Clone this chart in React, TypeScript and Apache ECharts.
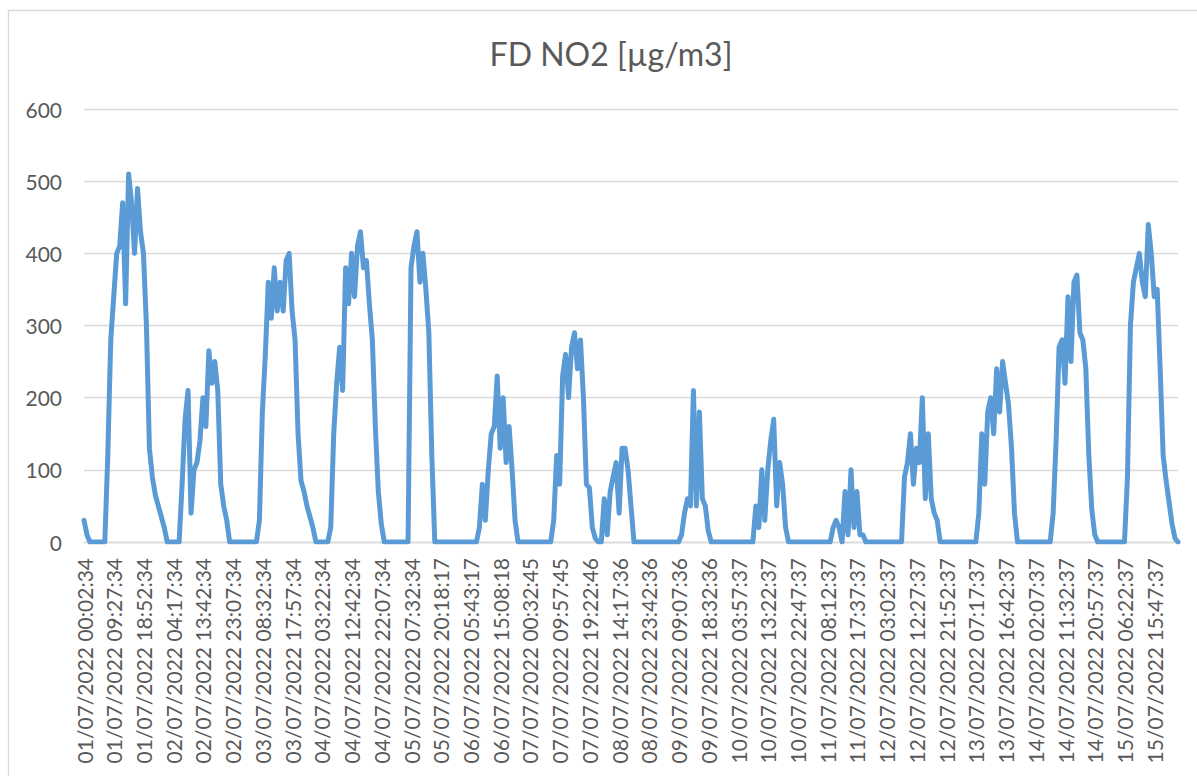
import React, { useEffect, useRef } from 'react';
import * as echarts from 'echarts';

const TITLE = 'FD NO2 [µg/m3]';

const tickLabels = [
  '01/07/2022 00:02:34', '01/07/2022 09:27:34', '01/07/2022 18:52:34',
  '02/07/2022 04:17:34', '02/07/2022 13:42:34', '02/07/2022 23:07:34',
  '03/07/2022 08:32:34', '03/07/2022 17:57:34', '04/07/2022 03:22:34',
  '04/07/2022 12:42:34', '04/07/2022 22:07:34', '05/07/2022 07:32:34',
  '05/07/2022 20:18:17', '06/07/2022 05:43:17', '06/07/2022 15:08:18',
  '07/07/2022 00:32:45', '07/07/2022 09:57:45', '07/07/2022 19:22:46',
  '08/07/2022 14:17:36', '08/07/2022 23:42:36', '09/07/2022 09:07:36',
  '09/07/2022 18:32:36', '10/07/2022 03:57:37', '10/07/2022 13:22:37',
  '10/07/2022 22:47:37', '11/07/2022 08:12:37', '11/07/2022 17:37:37',
  '12/07/2022 03:02:37', '12/07/2022 12:27:37', '12/07/2022 21:52:37',
  '13/07/2022 07:17:37', '13/07/2022 16:42:37', '14/07/2022 02:07:37',
  '14/07/2022 11:32:37', '14/07/2022 20:57:37', '15/07/2022 06:22:37',
  '15/07/2022 15:47:37',
];

// samples between two consecutive tick labels
const POINTS_PER_TICK = 10;

// NO2 readings [µg/m3] (10 samples per labelled interval)
const no2Values = [
  30, 10, 0, 0, 0, 0, 0, 0, 120, 280,
  340, 400, 410, 470, 330, 510, 470, 400, 490, 430,
  400, 300, 130, 90, 65, 50, 35, 20, 0, 0,
  0, 0, 0, 80, 170, 210, 40, 100, 110, 140,
  200, 160, 265, 220, 250, 210, 80, 50, 30, 0,
  0, 0, 0, 0, 0, 0, 0, 0, 0, 30,
  180, 260, 360, 310, 380, 320, 360, 320, 390, 400,
  320, 280, 150, 85, 70, 50, 35, 20, 0, 0,
  0, 0, 0, 20, 150, 220, 270, 210, 380, 330,
  400, 340, 410, 430, 380, 390, 330, 280, 160, 70,
  25, 0, 0, 0, 0, 0, 0, 0, 0, 0,
  380, 410, 430, 360, 400, 350, 290, 120, 0, 0,
  0, 0, 0, 0, 0, 0, 0, 0, 0, 0,
  0, 0, 0, 20, 80, 30, 100, 150, 160, 230,
  130, 200, 110, 160, 100, 30, 0, 0, 0, 0,
  0, 0, 0, 0, 0, 0, 0, 0, 30, 120,
  80, 230, 260, 200, 270, 290, 240, 280, 200, 80,
  75, 20, 5, 0, 0, 60, 10, 70, 90, 110,
  40, 130, 130, 100, 50, 0, 0, 0, 0, 0,
  0, 0, 0, 0, 0, 0, 0, 0, 0, 0,
  0, 10, 40, 60, 50, 210, 50, 180, 60, 50,
  15, 0, 0, 0, 0, 0, 0, 0, 0, 0,
  0, 0, 0, 0, 0, 0, 50, 20, 100, 30,
  100, 140, 170, 50, 110, 80, 20, 0, 0, 0,
  0, 0, 0, 0, 0, 0, 0, 0, 0, 0,
  0, 0, 20, 30, 20, 0, 70, 10, 100, 20,
  70, 10, 10, 0, 0, 0, 0, 0, 0, 0,
  0, 0, 0, 0, 0, 0, 90, 110, 150, 80,
  130, 110, 200, 60, 150, 60, 40, 30, 0, 0,
  0, 0, 0, 0, 0, 0, 0, 0, 0, 0,
  0, 40, 150, 80, 180, 200, 150, 240, 180, 250,
  220, 190, 130, 40, 0, 0, 0, 0, 0, 0,
  0, 0, 0, 0, 0, 0, 40, 140, 270, 280,
  220, 340, 250, 360, 370, 290, 280, 240, 120, 45,
  10, 0, 0, 0, 0, 0, 0, 0, 0, 0,
  0, 90, 300, 360, 380, 400, 360, 340, 440, 400,
  340, 350, 240, 120, 85, 55, 25, 5, 0,
];

const yTicks = { min: 0, max: 600, interval: 100 };

const FONT = 'Lato, "Open Sans", sans-serif';
const TEXT_COLOR = '#595959';
const GRID_COLOR = '#D9D9D9';
const LINE_COLOR = '#5B9BD5';

export default function App() {
  const ref = useRef<HTMLDivElement>(null);

  useEffect(() => {
    if (!ref.current) return;
    const chart = echarts.init(ref.current, null, { renderer: 'svg' });
    const categories = no2Values.map((_, i) =>
      i % POINTS_PER_TICK === 0 ? tickLabels[i / POINTS_PER_TICK] ?? '' : ''
    );
    chart.setOption({
      animation: false,
      backgroundColor: '#ffffff',
      title: {
        text: TITLE,
        left: 606,
        top: 32,
        textAlign: 'center',
        textStyle: {
          fontFamily: FONT,
          fontSize: 32,
          fontWeight: 'normal',
          color: TEXT_COLOR,
        },
      },
      graphic: [
        {
          type: 'rect',
          silent: true,
          shape: { x: 8.5, y: 10.5, width: 1400, height: 1000 },
          style: { fill: 'none', stroke: GRID_COLOR, lineWidth: 1.3 },
        },
      ],
      grid: {
        left: 84,
        right: 19,
        top: 109,
        bottom: 234,
        outerBoundsMode: 'none',
      },
      xAxis: {
        type: 'category',
        data: categories,
        boundaryGap: false,
        axisLine: { show: true, lineStyle: { color: GRID_COLOR, width: 1.3 } },
        axisTick: { show: false },
        splitLine: { show: false },
        axisLabel: {
          interval: (index: number) => index % POINTS_PER_TICK === 0,
          rotate: 90,
          margin: 16,
          fontFamily: FONT,
          fontSize: 21,
          color: TEXT_COLOR,
        },
      },
      yAxis: {
        type: 'value',
        min: yTicks.min,
        max: yTicks.max,
        interval: yTicks.interval,
        axisLine: { show: false },
        axisTick: { show: false },
        splitLine: { show: true, lineStyle: { color: GRID_COLOR, width: 1.3 } },
        axisLabel: {
          margin: 22,
          fontFamily: FONT,
          fontSize: 21,
          color: TEXT_COLOR,
        },
      },
      series: [
        {
          type: 'line',
          data: no2Values,
          showSymbol: false,
          symbol: 'none',
          smooth: false,
          lineStyle: { color: LINE_COLOR, width: 5, join: 'round', cap: 'round' },
          itemStyle: { color: LINE_COLOR },
        },
      ],
    });
    return () => chart.dispose();
  }, []);

  return (
    <div
      ref={ref}
      style={{ position: 'fixed', left: 0, top: 0, width: 1197, height: 776, background: '#fff' }}
    />
  );
}
